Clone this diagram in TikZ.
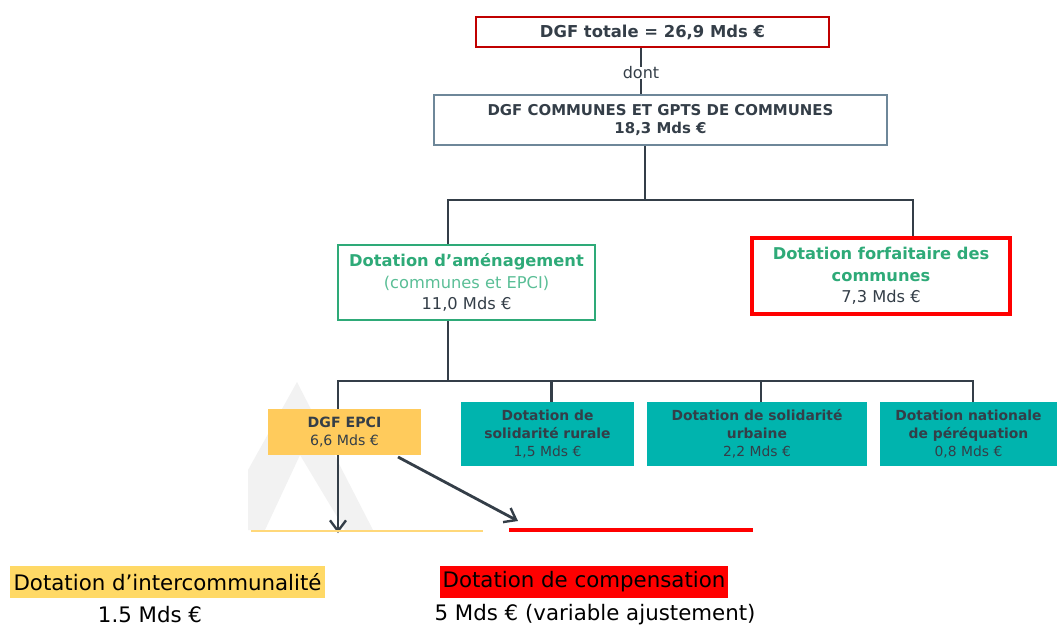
\documentclass[tikz,border=0pt]{standalone}
\usepackage{fontspec}
\setmainfont{DejaVu Sans}
\usetikzlibrary{arrows.meta}
\pgfdeclarelayer{background}
\pgfdeclarelayer{wmlayer}
\pgfsetlayers{wmlayer,background,main}
\definecolor{darkred}{RGB}{192,0,0}
\definecolor{slateb}{RGB}{110,135,153}
\definecolor{txt}{RGB}{52,62,72}
\definecolor{conn}{RGB}{52,62,72}
\definecolor{grn}{RGB}{46,170,120}
\definecolor{lgrn}{RGB}{90,190,150}
\definecolor{teal}{RGB}{0,180,174}
\definecolor{epciy}{RGB}{255,203,92}
\definecolor{hly}{RGB}{255,217,102}
\definecolor{liney}{RGB}{255,216,122}
\definecolor{wm}{RGB}{242,242,242}
\begin{document}
\begin{tikzpicture}[x=0.75pt,y=-0.75pt,
  every node/.style={inner sep=0pt,align=center,text=txt},
  framed/.style={draw,line width=2.2pt},
  con/.style={draw=conn,line width=2.1pt},
  arr/.style={con,-{Straight Barb[length=8pt,width=12pt,line width=1.8pt]}},
  lbl/.style={font=\fontsize{16}{19}\selectfont,text=black}
]
\useasboundingbox (0,0) rectangle (1057,628);
% watermark
\begin{pgfonlayer}{wmlayer}
\fill[wm,even odd rule] (248,530) -- (248,470) -- (297,382) -- (373,530) -- cycle
  (265,530) -- (300,455) -- (345,530) -- cycle;
\end{pgfonlayer}

\node[framed,draw=darkred,minimum width=353*0.75pt,minimum height=30*0.75pt,
  font=\bfseries\fontsize{12.3}{14}\selectfont] (tot) at (652.5,32) {DGF totale = 26,9 Mds €};
\node[font=\fontsize{12}{14}\selectfont] (dont) at (641,73) {dont};
\node[framed,draw=slateb,minimum width=453*0.75pt,minimum height=50*0.75pt,
  font=\bfseries\fontsize{11.2}{14.2}\selectfont] (dgfc) at (660.5,120) {DGF COMMUNES ET GPTS DE COMMUNES\\18,3 Mds €};
\node[framed,draw=grn,minimum width=257*0.75pt,minimum height=75*0.75pt,
  font=\fontsize{12.2}{16}\selectfont] (amen) at (466.5,282.5)
  {\textcolor{grn}{\bfseries Dotation d’aménagement}\\\textcolor{lgrn}{(communes et EPCI)}\\11,0 Mds €};
\node[framed,draw=red,line width=2.8pt,minimum width=258*0.75pt,minimum height=76*0.75pt,
  font=\fontsize{12.2}{16}\selectfont] (forf) at (881,276)
  {\textcolor{grn}{\bfseries Dotation forfaitaire des}\\\textcolor{grn}{\bfseries communes}\\7,3 Mds €};
\node[fill=epciy,minimum width=153*0.75pt,minimum height=46*0.75pt,
  font=\fontsize{10.6}{14}\selectfont] (epci) at (344.5,432) {\bfseries DGF EPCI\\6,6 Mds €};
\node[fill=teal,minimum width=173*0.75pt,minimum height=64*0.75pt,
  font=\fontsize{10.4}{13.5}\selectfont] (dsr) at (547.5,434) {\bfseries Dotation de\\\bfseries solidarité rurale\\1,5 Mds €};
\node[fill=teal,minimum width=220*0.75pt,minimum height=64*0.75pt,
  font=\fontsize{10.4}{13.5}\selectfont] (dsu) at (757,434) {\bfseries Dotation de solidarité\\\bfseries urbaine\\2,2 Mds €};
\node[fill=teal,minimum width=177*0.75pt,minimum height=64*0.75pt,
  font=\fontsize{10.4}{13.5}\selectfont] (dnp) at (968.5,434) {\bfseries Dotation nationale\\\bfseries de péréquation\\0,8 Mds €};

\coordinate (j1) at (645,200);
\coordinate (j2) at (448,381);
\coordinate (epcidown) at (338,533);
\coordinate (epcistart) at (398,457);
\coordinate (epciend) at (518,521);
\coordinate (ya) at (251,531);
\coordinate (yb) at (483,531);
\coordinate (ra) at (509,530);
\coordinate (rb) at (753,530);

\begin{pgfonlayer}{background}
\draw[con] (tot.south -| dont) -- (dont.north);
\draw[con] (dont.south) -- (dont.south |- dgfc.north);
\draw[con] (dgfc.south -| j1) -- (j1);
\draw[con] (j1) -| ([xshift=-18.5*0.75pt]amen.north);
\draw[con] (j1) -| ([xshift=32*0.75pt]forf.north);
\draw[con] (amen.south -| j2) -- (j2);
\draw[con] (j2) -| ([xshift=4*0.75pt]dsr.north);
\draw[con] (j2) -| ([xshift=4*0.75pt]dsu.north);
\draw[con] (j2) -| ([xshift=4.5*0.75pt]dnp.north);
\draw[arr] (j2) -| (epcidown);
\draw[arr] (epcistart) -- (epciend);
\end{pgfonlayer}
\draw[liney,line width=1.6pt] (ya) -- (yb);
\draw[red,line width=2.3pt] (ra) -- (rb);

\node[lbl,fill=hly,minimum width=315*0.75pt,minimum height=32*0.75pt] (dint) at (167.5,582) {Dotation d’intercommunalité};
\node[lbl] (dintv) at (150,615) {1.5 Mds €};
\node[lbl,fill=red,minimum width=288*0.75pt,minimum height=32*0.75pt] (dcomp) at (584,582) {Dotation de compensation};
\node[lbl] (dcompv) at (595,615) {5 Mds € (variable ajustement)};
\end{tikzpicture}
\end{document}
